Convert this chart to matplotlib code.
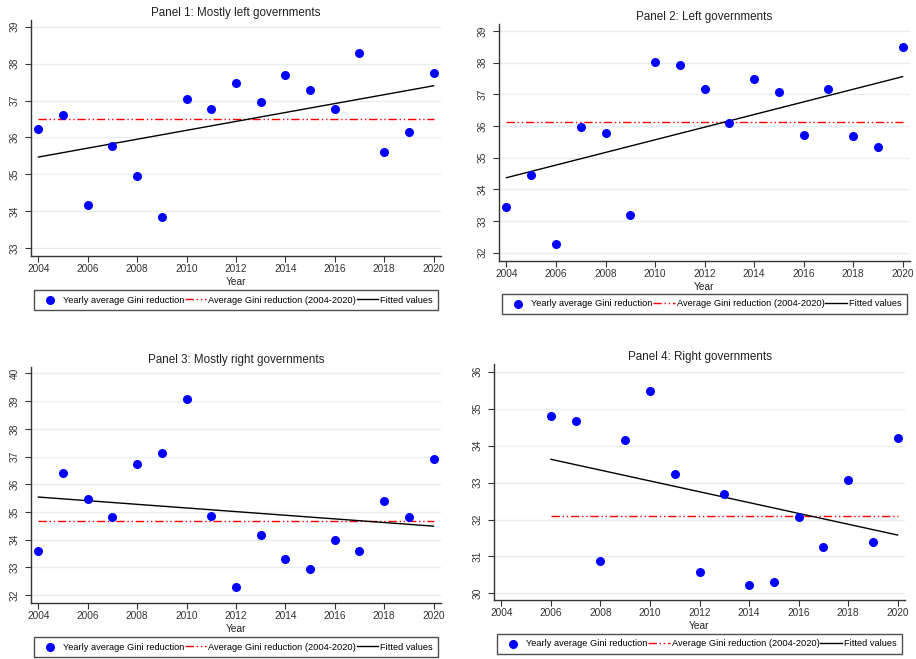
import numpy as np
import matplotlib
matplotlib.use("Agg")
import matplotlib.pyplot as plt

plt.rcParams['font.family'] = ['Liberation Sans', 'DejaVu Sans']

# values
years_all = list(range(2004, 2021))
years_right = list(range(2006, 2021))

gini_mostly_left = [36.22, 36.60, 34.17, 35.78, 34.97, 33.86, 37.04, 36.77, 37.47,
                    36.97, 37.70, 37.29, 36.76, 38.28, 35.61, 36.15, 37.74]
gini_left = [33.43, 34.46, 32.29, 35.97, 35.77, 33.20, 38.02, 37.92, 37.16,
             36.09, 37.48, 37.08, 35.72, 37.16, 35.69, 35.35, 38.49]
gini_mostly_right = [33.59, 36.41, 35.47, 34.81, 36.72, 37.12, 39.08, 34.86, 32.29,
                     34.16, 33.32, 32.94, 33.98, 33.59, 35.41, 34.81, 36.90]
gini_right = [34.81, 34.67, 30.89, 34.16, 35.47, 33.22, 30.59, 32.69, 30.22,
              30.30, 32.08, 31.26, 33.06, 31.40, 34.22]

mean_values = [36.50, 36.14, 34.67, 32.10]
fit_start = [35.47, 34.37, 35.54, 33.63]
fit_end = [37.40, 37.56, 34.49, 31.58]

titles = ["Panel 1: Mostly left governments", "Panel 2: Left governments",
          "Panel 3: Mostly right governments", "Panel 4: Right governments"]
series = [(years_all, gini_mostly_left), (years_all, gini_left),
          (years_all, gini_mostly_right), (years_right, gini_right)]
ylims = [(32.79, 39.18), (31.74, 39.22), (31.72, 40.23), (29.82, 36.21)]
yticks = [range(33, 40), range(32, 40), range(32, 41), range(30, 37)]

# axes boxes and legend centres in figure fractions
ax_pos = [[0.0338, 0.6115, 0.4476, 0.3581],
          [0.5448, 0.6039, 0.4487, 0.3596],
          [0.0338, 0.0850, 0.4476, 0.3581],
          [0.5393, 0.0895, 0.4487, 0.3581]]
leg_center = [(0.2577, 0.5447), (0.7691, 0.5387),
              (0.2577, 0.0182), (0.7637, 0.0228)]

fig = plt.figure(figsize=(9.16, 6.59), dpi=100)

for i in range(4):
    ax = fig.add_axes(ax_pos[i])
    x, y = series[i]
    ax.scatter(x, y, s=30, color='#0000ff', zorder=3,
               label="Yearly average Gini reduction")
    ax.plot([x[0], x[-1]], [mean_values[i], mean_values[i]], color='#ff0000',
            lw=1.0, dashes=(6, 2, 1, 2, 1, 2),
            label="Average Gini reduction (2004-2020)")
    ax.plot([x[0], x[-1]], [fit_start[i], fit_end[i]], color='black', lw=1.0,
            label="Fitted values")

    ax.set_xlim(2003.7, 2020.3)
    ax.set_ylim(*ylims[i])
    ax.set_xticks(range(2004, 2021, 2))
    ax.set_yticks(list(yticks[i]))
    ax.grid(axis='y', color='#e6eef2', lw=1.0)
    ax.set_axisbelow(True)
    for s in ['top', 'right']:
        ax.spines[s].set_visible(False)
    for s in ['left', 'bottom']:
        ax.spines[s].set_color('#333333')
        ax.spines[s].set_linewidth(1.0)
    ax.tick_params(direction='out', length=4, width=0.8, color='#333333',
                   labelsize=7.3, labelcolor='#333333', pad=2)
    ax.tick_params(axis='y', pad=4)
    for lab in ax.get_yticklabels():
        lab.set_rotation(90)
        lab.set_va('center')
    ax.set_title(titles[i], fontsize=8.4, color='#222222', pad=3)
    ax.set_xlabel("Year", fontsize=7.3, color='#222222', labelpad=2)

    leg = ax.legend(loc='center', bbox_to_anchor=leg_center[i],
                    bbox_transform=fig.transFigure, ncol=3,
                    fontsize=6.7, frameon=True, fancybox=False, handlelength=2.3,
                    handletextpad=0.2, columnspacing=0.1, borderpad=0.6,
                    borderaxespad=0)
    leg.get_frame().set_edgecolor('#222222')
    leg.get_frame().set_linewidth(1.0)

fig.savefig("out.png", dpi=100)
